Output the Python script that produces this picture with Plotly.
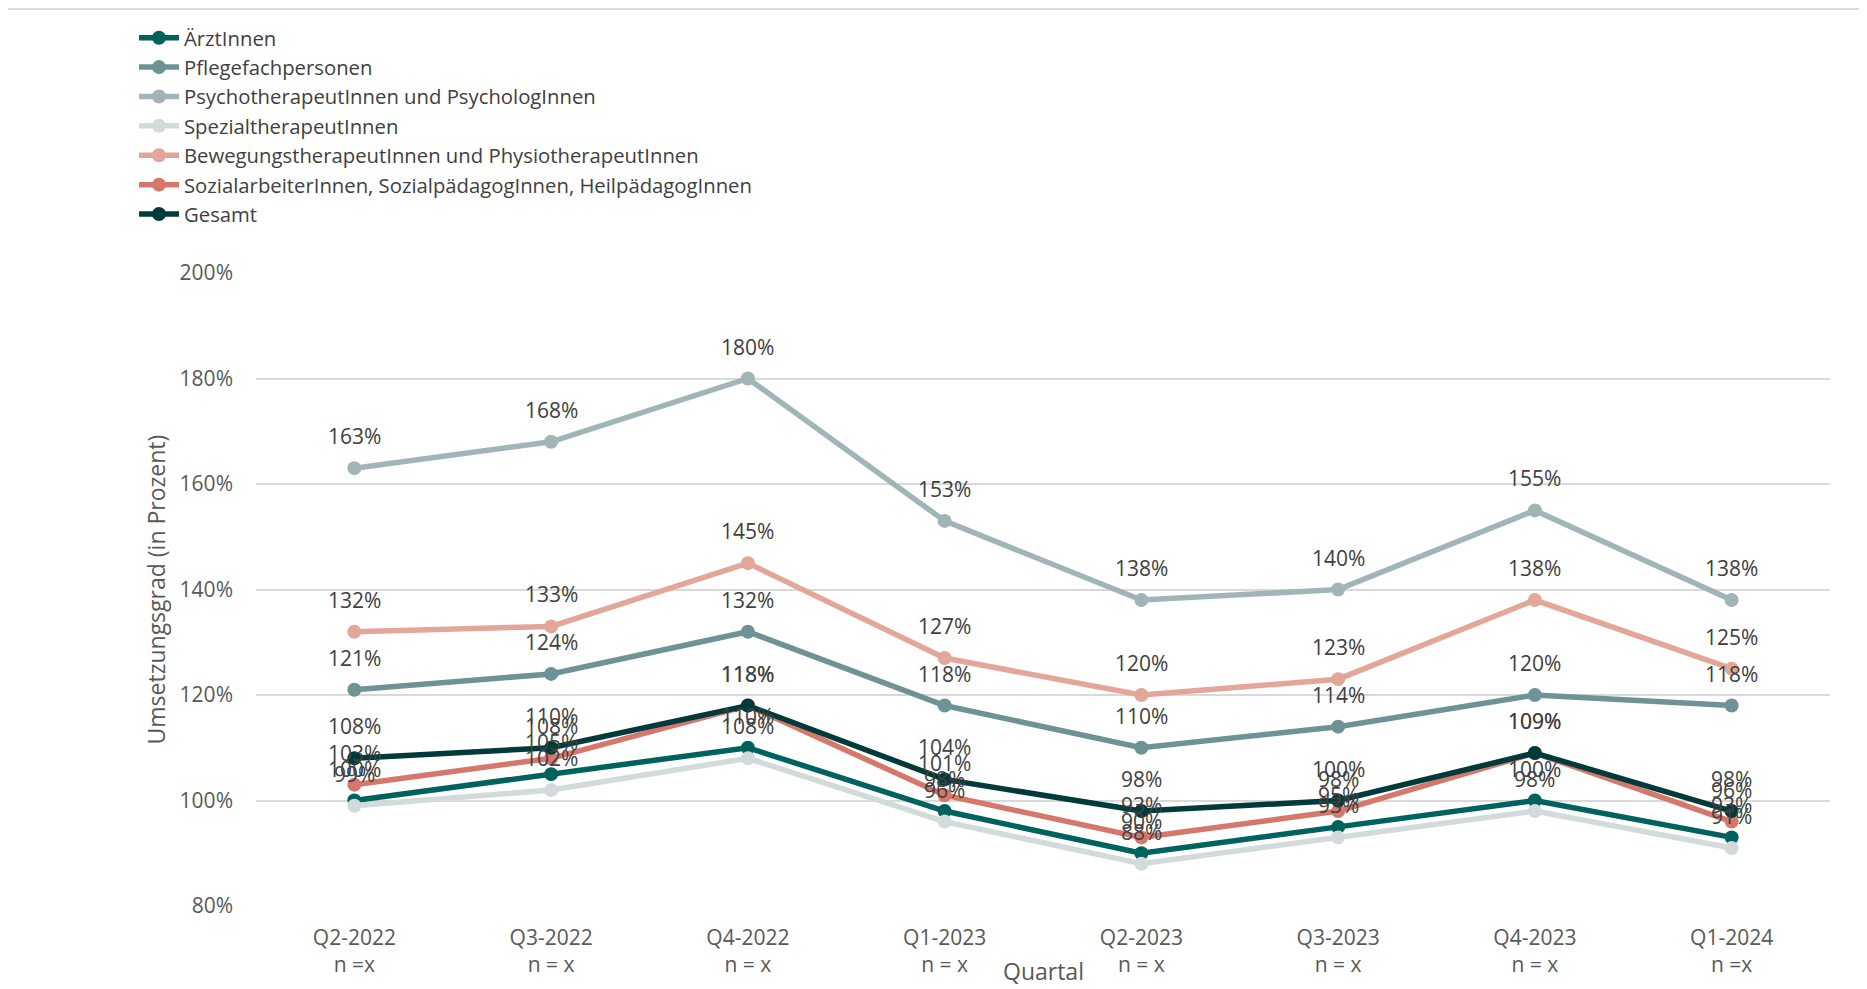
import plotly.graph_objects as go

quarters = ["Q2-2022", "Q3-2022", "Q4-2022", "Q1-2023", "Q2-2023", "Q3-2023", "Q4-2023", "Q1-2024"]
n_labels = ["n =x", "n = x", "n = x", "n = x", "n = x", "n = x", "n = x", "n =x"]

aerzt = [100, 105, 110, 98, 90, 95, 100, 93]
pflege = [121, 124, 132, 118, 110, 114, 120, 118]
psycho = [163, 168, 180, 153, 138, 140, 155, 138]
spezial = [99, 102, 108, 96, 88, 93, 98, 91]
bewegung = [132, 133, 145, 127, 120, 123, 138, 125]
sozial = [103, 108, 118, 101, 93, 98, 109, 96]
gesamt = [108, 110, 118, 104, 98, 100, 109, 98]

series_names = [
    "ÄrztInnen",
    "Pflegefachpersonen",
    "PsychotherapeutInnen und PsychologInnen",
    "SpezialtherapeutInnen",
    "BewegungstherapeutInnen und PhysiotherapeutInnen",
    "SozialarbeiterInnen, SozialpädagogInnen, HeilpädagogInnen",
    "Gesamt",
]
series_values = [aerzt, pflege, psycho, spezial, bewegung, sozial, gesamt]
series_colors = ["#00625F", "#6D9396", "#A1B5B8", "#D3DADC", "#E4A699", "#D5776B", "#003A3A"]

FONT = "Open Sans"
OFF = 8  # page body margin
W, H = 1867 - OFF, 989 - OFF
ML, MR, MT, MB = 256 - OFF, 37, 273 - OFF, 83
PH = H - MT - MB
PW = W - ML - MR

x_idx = list(range(len(quarters)))
tick_text = [f"{q}<br>{n}" for q, n in zip(quarters, n_labels)]

fig = go.Figure()
for name, vals, col in zip(series_names, series_values, series_colors):
    fig.add_trace(go.Scatter(
        x=x_idx, y=vals, name=name, mode="lines+markers",
        line=dict(color=col, width=5.5),
        marker=dict(color=col, size=14),
        cliponaxis=False,
    ))

annotations = []
for vals in series_values:
    for i, v in zip(x_idx, vals):
        annotations.append(dict(
            x=i, y=v, xref="x", yref="y", text=f"{v}%", showarrow=False,
            yshift=32, font=dict(family=FONT, size=21, color="#404040"),
        ))

annotations.append(dict(
    x=0.5, y=-(971 - 906) / PH, xref="paper", yref="paper",
    text="Quartal", showarrow=False, xanchor="center", yanchor="middle",
    font=dict(family=FONT, size=23, color="#595959"),
))
annotations.append(dict(
    x=(155 - 256) / PW, y=0.5, xref="paper", yref="paper",
    text="Umsetzungsgrad (in Prozent)", showarrow=False, textangle=-90,
    xanchor="center", yanchor="middle",
    font=dict(family=FONT, size=23, color="#595959"),
))

fig.update_layout(
    width=W, height=H,
    margin=dict(l=ML, r=MR, t=MT, b=MB, autoexpand=False),
    paper_bgcolor="white", plot_bgcolor="white",
    font=dict(family=FONT, color="#595959"),
    showlegend=True,
    legend=dict(
        x=(134 - OFF) / W, y=1 - 10 / H, xref="container", yref="container",
        xanchor="left", yanchor="top",
        font=dict(family=FONT, size=20.3, color="#404040"),
        bgcolor="rgba(0,0,0,0)", tracegroupgap=0, itemwidth=40,
    ),
    xaxis=dict(
        range=[-0.5, 7.5], tickmode="array", tickvals=x_idx, ticktext=tick_text,
        showgrid=False, zeroline=False, showline=False, ticks="",
        tickfont=dict(family=FONT, size=21, color="#595959"),
        ticklabelstandoff=17,
    ),
    yaxis=dict(
        range=[80, 200], dtick=20, ticksuffix="%",
        showgrid=True, gridcolor="#D9D9D9", gridwidth=1.5,
        zeroline=False, showline=False, ticks="",
        tickfont=dict(family=FONT, size=21, color="#595959"),
        ticklabelstandoff=22,
    ),
    annotations=annotations,
    shapes=[dict(
        type="line", xref="paper", yref="paper",
        x0=-ML / PW, x1=1 + MR / PW, y0=1 + (MT - 1) / PH, y1=1 + (MT - 1) / PH,
        line=dict(color="#D9D9D9", width=2),
    )],
)

fig.write_html("out.html")
